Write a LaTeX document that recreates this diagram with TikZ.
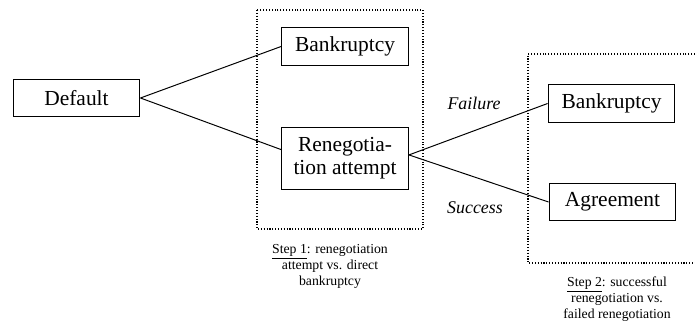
\documentclass[tikz,border=0pt]{standalone}
\usepackage{fontspec}
\setmainfont{Liberation Serif}
\begin{document}
\begin{tikzpicture}[x=0.56pt,y=-0.56pt,line width=0.55pt]
\tikzset{box/.style={draw, line width=0.6pt, minimum width=71pt, minimum height=21pt, inner sep=2pt, font=\rmfamily\fontsize{12}{13}\selectfont, align=center},
  note/.style={font=\rmfamily\fontsize{7.7}{9}\selectfont, align=center},
  branch/.style={font=\rmfamily\fontsize{10}{12}\selectfont\itshape}}
\useasboundingbox (0,0) rectangle (695,324);
%\draw [very thin, gray] (0,0) grid (695,324);
\draw [densely dotted, line width=0.6pt] (257,10) rectangle (423,229);
\draw [densely dotted, line width=0.6pt] (695,54) -- (528,54) -- (528,263) -- (695,263);
\node [box] (default) at (76.5,98) {Default};
\node [box] (bank1) at (345,46.5) {Bankruptcy};
\node [box, inner ysep=5.6pt] (reneg) at (345,158.5) {Renegotia-\\tion attempt};
\node [box] (bank2) at (611.5,103.5) {Bankruptcy};
\node [box] (agree) at (612.5,202) {Agreement};
\draw (default.east) -- (bank1.west);
\draw (default.east) -- ([yshift=5pt]reneg.west);
\draw ([yshift=2pt]reneg.east) -- (bank2.west);
\draw ([yshift=2pt]reneg.east) -- (agree.west);
\node [branch] (fail) at (474,103) {Failure};
\node [branch] (succ) at (475,208) {Success};
\node [note] (step1) at (330,266) {\underline{Step 1}: renegotiation\\attempt vs. direct\\bankruptcy};
\node [note] (step2) at (617,299) {\underline{Step 2}: successful\\renegotiation vs.\\failed renegotiation};
\end{tikzpicture}
\end{document}
